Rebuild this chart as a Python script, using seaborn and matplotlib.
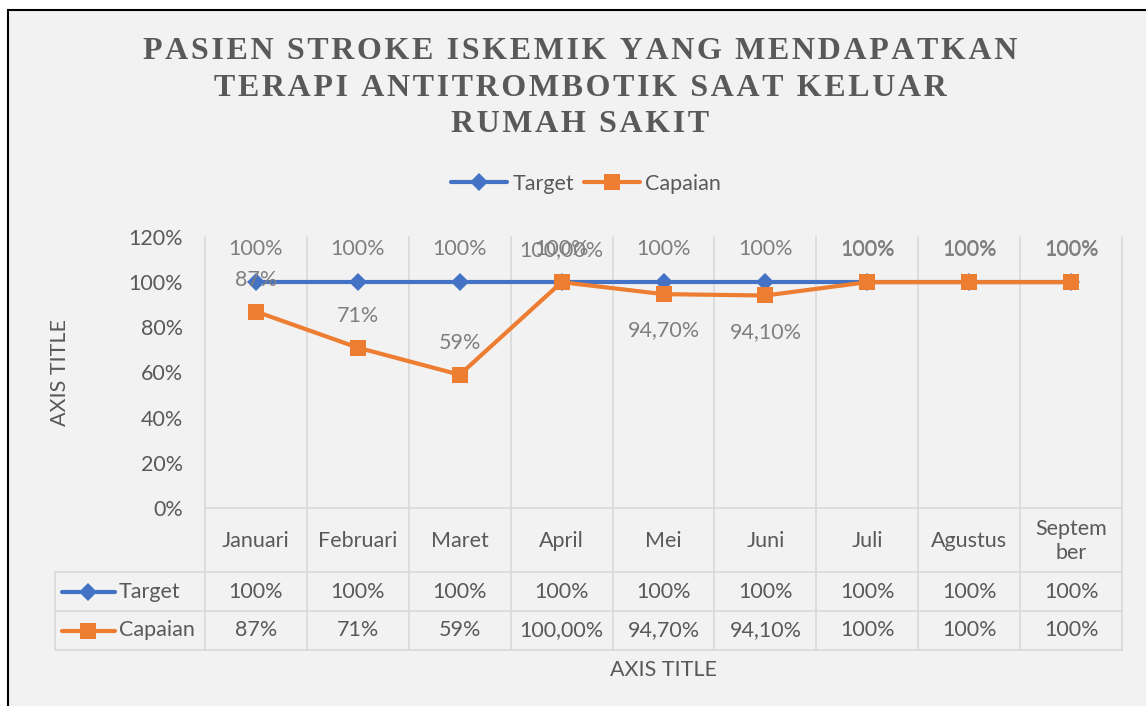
import numpy as np
import pandas as pd
import matplotlib
matplotlib.use('Agg')
import matplotlib.pyplot as plt
from matplotlib.lines import Line2D
from matplotlib.patches import Rectangle
from matplotlib.ticker import PercentFormatter
from matplotlib.transforms import Affine2D, blended_transform_factory
import seaborn as sns

# data
bulan = ['Januari', 'Februari', 'Maret', 'April', 'Mei', 'Juni', 'Juli', 'Agustus', 'Septem\nber']
target = [1.00, 1.00, 1.00, 1.00, 1.00, 1.00, 1.00, 1.00, 1.00]
capaian = [0.87, 0.71, 0.59, 1.00, 0.947, 0.941, 1.00, 1.00, 1.00]
label_target = ['100%', '100%', '100%', '100%', '100%', '100%', '100%', '100%', '100%']
label_capaian = ['87%', '71%', '59%', '100,00%', '94,70%', '94,10%', '100%', '100%', '100%']
posisi_capaian = ['atas', 'atas', 'atas', 'atas', 'bawah', 'bawah', 'atas', 'atas', 'atas']

judul = 'PASIEN STROKE ISKEMIK YANG MENDAPATKAN\nTERAPI ANTITROMBOTIK SAAT KELUAR\nRUMAH SAKIT'

BIRU = '#4472C4'
ORANYE = '#ED7D31'
ABU = '#595959'
ABU_LABEL = '#7F7F7F'
GRID = '#D9D9D9'
FS = 15.5

sns.set_style('white')
plt.rcParams['font.family'] = ['Lato', 'DejaVu Sans']

W, H = 1146, 706
fig = plt.figure(figsize=(W / 100, H / 100), dpi=100, facecolor='white')
# pixel transform (origin top-left)
pxT = Affine2D().scale(1 / W, -1 / H).translate(0, 1) + fig.transFigure

# background and border
fig.add_artist(Rectangle((8, 10), W + 20, H + 20, transform=pxT, facecolor='#F2F2F2',
                         edgecolor='black', linewidth=1.5, zorder=-10))

# plot area
L, R, T, B = 205, 1122, 237, 508
ax = fig.add_axes([L / W, 1 - B / H, (R - L) / W, (B - T) / H])
ax.set_facecolor('none')

df = pd.DataFrame({
    'Bulan': bulan * 2,
    'Nilai': target + capaian,
    'Seri': ['Target'] * len(bulan) + ['Capaian'] * len(bulan),
})
sns.lineplot(data=df, x='Bulan', y='Nilai', hue='Seri', style='Seri', sort=False,
             palette={'Target': BIRU, 'Capaian': ORANYE},
             markers={'Target': 'D', 'Capaian': 's'}, dashes=False,
             linewidth=3, markersize=11, markeredgewidth=0, ax=ax)
for ln in ax.get_lines():
    if ln.get_marker() == 'D':
        ln.set_markersize(9)

ax.set_xlim(-0.5, len(bulan) - 0.5)
ax.set_ylim(0, 1.2)
ax.set_yticks(np.arange(0, 1.21, 0.2))
ax.yaxis.set_major_formatter(PercentFormatter(1, decimals=0))
ax.tick_params(axis='y', length=0, labelsize=FS, labelcolor=ABU, pad=16)
ax.set_xticks([])
ax.set_xlabel('')
ax.set_ylabel('')
for s in ax.spines.values():
    s.set_visible(False)

# data labels
for i, (v, t) in enumerate(zip(target, label_target)):
    ax.annotate(t, (i, v), xytext=(0, 24), textcoords='offset points', ha='center',
                va='center', fontsize=FS, color=ABU_LABEL)
for i, (v, t, p) in enumerate(zip(capaian, label_capaian, posisi_capaian)):
    dy = 23 if p == 'atas' else -26
    ax.annotate(t, (i, v), xytext=(0, dy), textcoords='offset points', ha='center',
                va='center', fontsize=FS, color=ABU_LABEL)

# legend on top
handles, labels = ax.get_legend_handles_labels()
ax.legend(handles, labels, loc='center', bbox_to_anchor=(586 / W, 1 - 184 / H),
          bbox_transform=fig.transFigure, ncol=2, frameon=False, fontsize=FS,
          handlelength=2.6, columnspacing=0.45, handletextpad=0.25, labelcolor=ABU)

# data table below the plot
tr = blended_transform_factory(ax.transData, pxT)
x_kiri = ax.transData.inverted().transform(pxT.transform((55, 0)))[0]
x_kanan = len(bulan) - 0.5
baris = [508, 572, 611, 650]

for xb in np.arange(-0.5, len(bulan), 1.0):
    ax.plot([xb, xb], [T, baris[-1]], transform=tr, color=GRID, lw=1.2, clip_on=False, zorder=0)
ax.plot([-0.5, x_kanan], [baris[0], baris[0]], transform=tr, color=GRID, lw=1.2, clip_on=False, zorder=0)
for yb in baris[1:]:
    ax.plot([x_kiri, x_kanan], [yb, yb], transform=tr, color=GRID, lw=1.2, clip_on=False, zorder=0)
ax.plot([x_kiri, x_kiri], [baris[1], baris[-1]], transform=tr, color=GRID, lw=1.2, clip_on=False, zorder=0)

for i, b in enumerate(bulan):
    ax.text(i, (baris[0] + baris[1]) / 2 + 1, b, transform=tr, ha='center', va='center',
            fontsize=FS, color=ABU, linespacing=1.2, clip_on=False)
for r, (lbl, warna, mk, ms, nilai) in enumerate([
        ('Target', BIRU, 'D', 9, label_target),
        ('Capaian', ORANYE, 's', 11, label_capaian)]):
    yc = (baris[r + 1] + baris[r + 2]) / 2
    fig.add_artist(Line2D([62, 115], [yc, yc], transform=pxT, color=warna, lw=3))
    fig.add_artist(Line2D([88], [yc], transform=pxT, color=warna, marker=mk, markersize=ms,
                          markeredgewidth=0))
    fig.text(119, yc, lbl, transform=pxT, ha='left', va='center', fontsize=FS, color=ABU)
    for i, t in enumerate(nilai):
        ax.text(i, yc, t, transform=tr, ha='center', va='center', fontsize=FS,
                color=ABU, clip_on=False)

# axis titles
fig.text(60, 372, 'AXIS TITLE', transform=pxT, rotation=90, ha='center', va='center',
         fontsize=FS, color=ABU)
fig.text(663, 670, 'AXIS TITLE', transform=pxT, ha='center', va='center',
         fontsize=FS, color=ABU)

# title with letter spacing
judul_spasi = '\n'.join('\u200a \u200a'.join('\u200a'.join(kata) for kata in baris_j.split(' '))
                        for baris_j in judul.split('\n'))
fig.text(580, 88, judul_spasi, transform=pxT, ha='center', va='center', fontsize=23,
         fontweight='bold', color=ABU, family=['Liberation Serif', 'DejaVu Serif'],
         linespacing=1.33)

fig.savefig('out.png', dpi=100, facecolor='white')
